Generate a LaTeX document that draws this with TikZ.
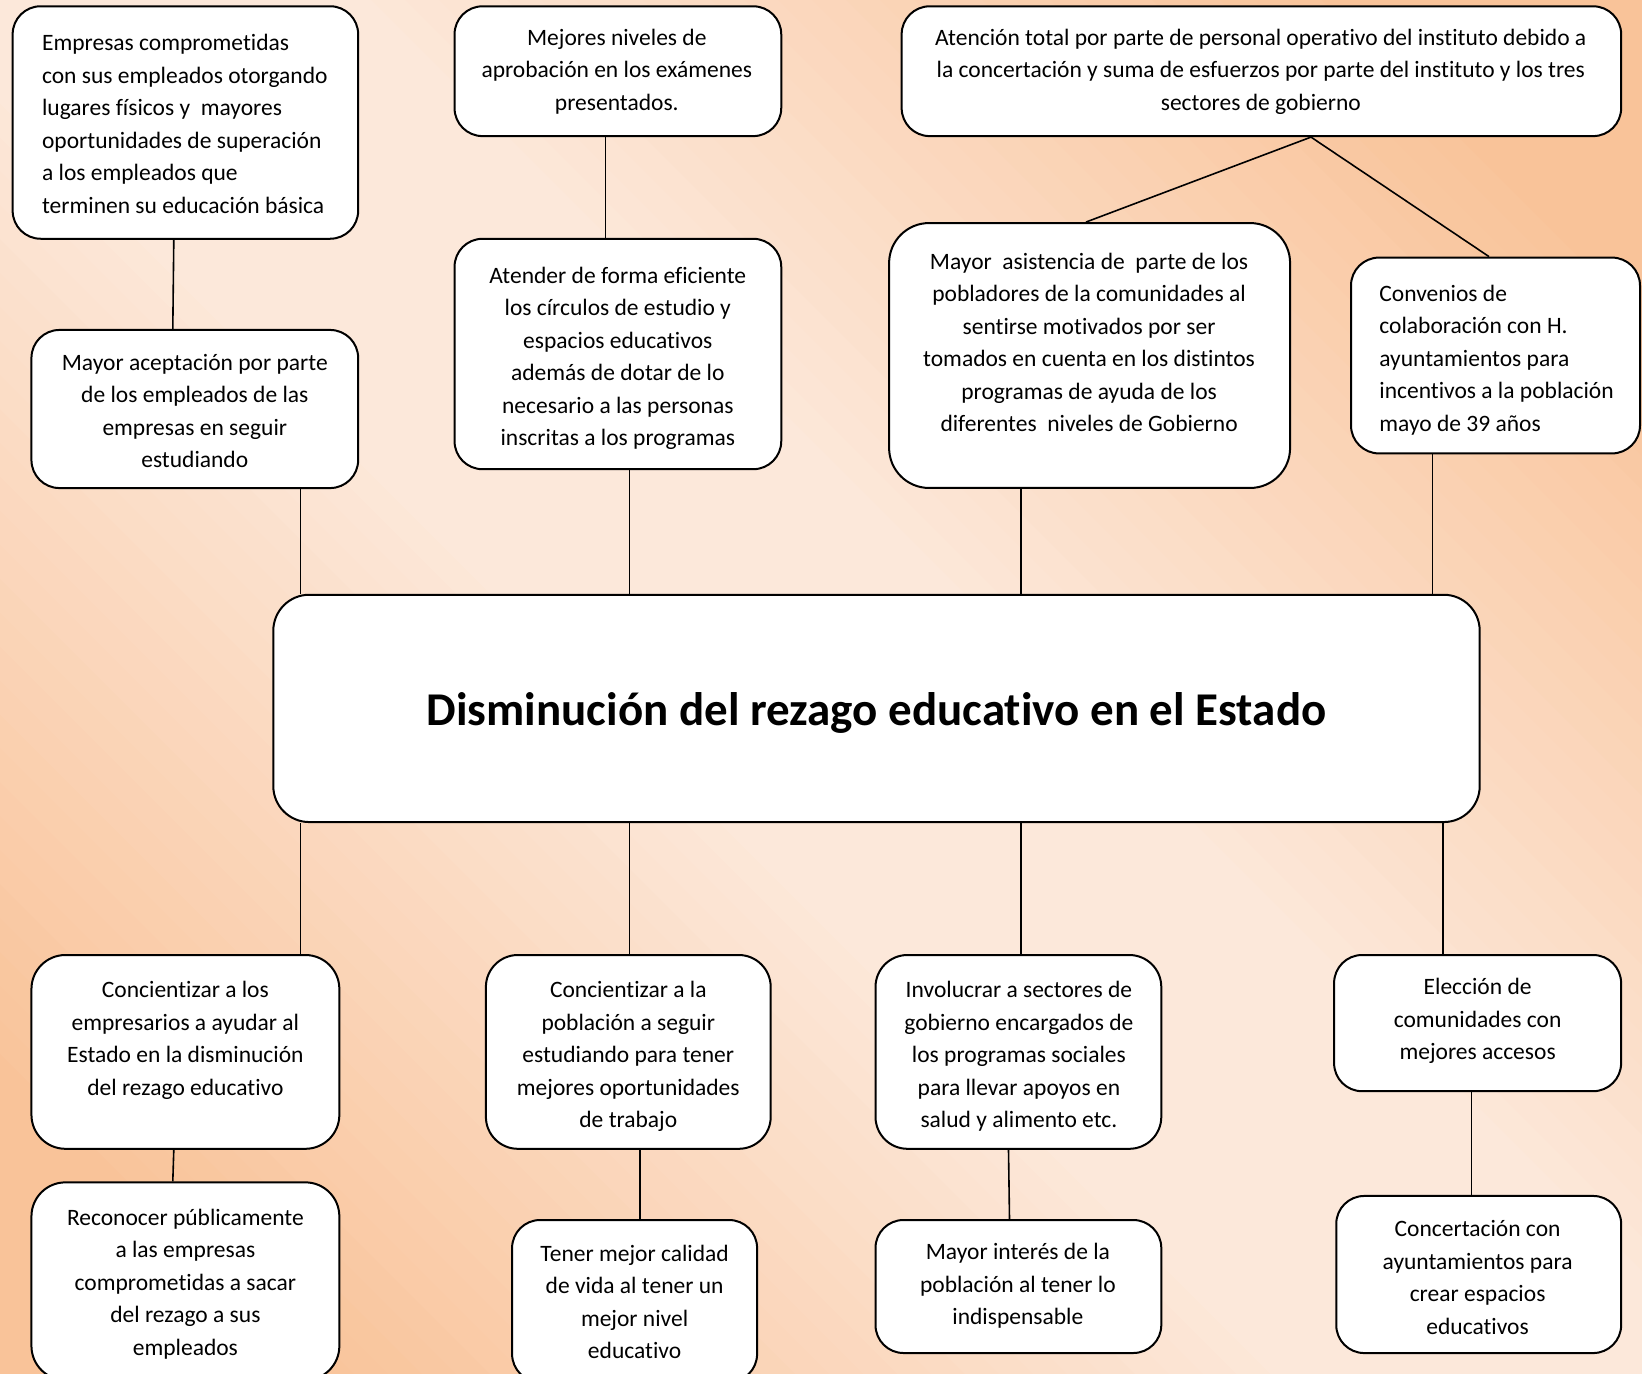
\documentclass[tikz,border=0pt]{standalone}
\usepackage{fontspec}
\setmainfont[Ligatures={NoCommon}, RawFeature={-liga;-clig;-calt;-dlig}]{Carlito}
\definecolor{bgorange}{RGB}{249,195,153}
\definecolor{bglight}{RGB}{252,232,218}
\begin{document}
\begin{tikzpicture}[x=1pt,y=-1pt,
  box/.style={draw=black, line width=2pt, fill=white, rounded corners=28pt, inner sep=0pt},
  bigbox/.style={box, rounded corners=36pt},
  txt/.style={font=\fontsize{23.5}{32.5}\selectfont, align=center, inner sep=0pt,
    execute at begin node=\strut, execute at end node=\strut},
  txtl/.style={txt, align=left},
  title/.style={font=\bfseries\fontsize{47}{55}\selectfont, inner sep=0pt},
  link/.style={draw=black, line width=1.6pt}]
\useasboundingbox (0,0) rectangle (1642,1374);
\clip (0,0) rectangle (1642,1374);
% background gradient: orange at top-right and bottom-left, light along the diagonal
\foreach \i in {0,...,89} {
  \pgfmathsetmacro{\ta}{-1080+\i*24}
  \pgfmathsetmacro{\tb}{\ta+25}
  \pgfmathtruncatemacro{\p}{max(0,min(100,(abs(\ta+12)-150)/7))}
  \fill[bgorange!\p!bglight]
    ({821+\ta*0.7071-1200*0.7071},{687-\ta*0.7071-1200*0.7071}) --
    ({821+\tb*0.7071-1200*0.7071},{687-\tb*0.7071-1200*0.7071}) --
    ({821+\tb*0.7071+1200*0.7071},{687-\tb*0.7071+1200*0.7071}) --
    ({821+\ta*0.7071+1200*0.7071},{687-\ta*0.7071+1200*0.7071}) -- cycle;
}

% x positions for connectors
\coordinate (xa) at (173.8,0);
\coordinate (xb) at (172.8,0);
\coordinate (xc) at (605.3,0);
\coordinate (xd) at (1311,0);
\coordinate (xe) at (1086,0);
\coordinate (xf) at (1489,0);
\coordinate (xg) at (300.5,0);
\coordinate (xh) at (629.4,0);
\coordinate (xi) at (1021,0);
\coordinate (xj) at (1432.6,0);
\coordinate (xk) at (1443,0);
\coordinate (xl) at (639.8,0);
\coordinate (xm) at (1008.5,0);
\coordinate (xn) at (1009.5,0);
\coordinate (xo) at (1471.3,0);

% boxes
\node[box, minimum width=345.5pt, minimum height=232.5pt] (b1) at (185.4,122.5) {};
\node[box, minimum width=326.7pt, minimum height=129.8pt] (b2) at (617.9,71.2) {};
\node[box, minimum width=719.5pt, minimum height=129.8pt] (b3) at (1261.4,71.2) {};
\node[box, minimum width=326.7pt, minimum height=158.1pt] (b4) at (194.8,409) {};
\node[box, minimum width=326.7pt, minimum height=230.4pt] (b5) at (617.9,354) {};
\node[box, minimum width=401pt, minimum height=264.9pt, rounded corners=40pt] (b6) at (1089.6,355.5) {};
\node[box, minimum width=289pt, minimum height=195.8pt] (b7) at (1495.5,355.5) {};
\node[bigbox, minimum width=1206.4pt, minimum height=227.3pt] (c) at (876.5,708.4) {};
\node[box, minimum width=307.9pt, minimum height=193.8pt, rounded corners=34pt] (b8) at (185.4,1051.9) {};
\node[box, minimum width=284.8pt, minimum height=193.8pt, rounded corners=32pt] (b9) at (628.3,1051.9) {};
\node[box, minimum width=285.8pt, minimum height=193.8pt, rounded corners=32pt] (b10) at (1018.4,1051.9) {};
\node[box, minimum width=287pt, minimum height=136.2pt] (b11) at (1477.6,1023.1) {};
\node[box, minimum width=307.9pt, minimum height=197.7pt, rounded corners=34pt] (b12) at (185.4,1281.2) {};
\node[box, minimum width=245pt, minimum height=162pt] (b13) at (634.6,1301) {};
\node[box, minimum width=285.8pt, minimum height=133pt] (b14) at (1018.4,1286.5) {};
\node[box, minimum width=284.9pt, minimum height=157.1pt] (b15) at (1478.7,1274.5) {};

% connectors
\draw[link] (b1.south -| xa) -- (b4.north -| xb);
\draw[link] (b2.south -| xc) -- (b5.north -| xc);
\draw[link] (b3.south -| xd) -- (b6.north -| xe);
\draw[link] (b3.south -| xd) -- (b7.north -| xf);
\draw[link] (b4.south -| xg) -- (c.north -| xg);
\draw[link] (b5.south -| xh) -- (c.north -| xh);
\draw[link] (b6.south -| xi) -- (c.north -| xi);
\draw[link] (b7.south -| xj) -- (c.north -| xj);
\draw[link] (c.south -| xg) -- (b8.north -| xg);
\draw[link] (c.south -| xh) -- (b9.north -| xh);
\draw[link] (c.south -| xi) -- (b10.north -| xi);
\draw[link] (c.south -| xk) -- (b11.north -| xk);
\draw[link] (b8.south -| xa) -- (b12.north -| xb);
\draw[link] (b9.south -| xl) -- (b13.north -| xl);
\draw[link] (b10.south -| xm) -- (b14.north -| xn);
\draw[link] (b11.south -| xo) -- (b15.north -| xo);

% texts
\node[txtl, anchor=west] (t1) at (41.9,128.5) {Empresas comprometidas\\con sus empleados otorgando\\lugares físicos y\ \ mayores\\oportunidades de superación\\a los empleados que\\terminen su educación básica};
\node[txt] (t2) at (616.8,74.6) {Mejores niveles de\\aprobación en los exámenes\\presentados.};
\node[txt] (t3) at (1260.8,74.6) {Atención total por parte de personal operativo del instituto debido a\\la concertación y suma de esfuerzos por parte del instituto y los tres\\sectores de gobierno};
\node[txt] (t4) at (194.8,416) {Mayor aceptación por parte\\de los empleados de las\\empresas en seguir\\estudiando};
\node[txt] (t5) at (617.8,361) {Atender de forma eficiente\\los círculos de estudio y\\espacios educativos\\además de dotar de lo\\necesario a las personas\\inscritas a los programas};
\node[txt] (t6) at (1089.1,347.4) {Mayor\ \ asistencia de\ \ parte de los\\pobladores de la comunidades al\\sentirse motivados por ser\\tomados en cuenta en los distintos\\programas de ayuda de los\\diferentes\ \ niveles de Gobierno};
\node[txtl, anchor=west] (t7) at (1379.2,363.1) {Convenios de\\colaboración con H.\\ayuntamientos para\\incentivos a la población\\mayo de 39 años};
\node[title] (tc) at (876.5,713) {Disminución del rezago educativo en el Estado};
\node[txt] (t8) at (185.4,1043.3) {Concientizar a los\\empresarios a ayudar al\\Estado en la disminución\\del rezago educativo};
\node[txt] (t9) at (628.3,1059.5) {Concientizar a la\\población a seguir\\estudiando para tener\\mejores oportunidades\\de trabajo};
\node[txt] (t10) at (1018.9,1059.5) {Involucrar a sectores de\\gobierno encargados de\\los programas sociales\\para llevar apoyos en\\salud y alimento etc.};
\node[txt] (t11) at (1477.6,1023.9) {Elección de\\comunidades con\\mejores accesos};
\node[txt] (t12) at (185.4,1286.8) {Reconocer públicamente\\a las empresas\\comprometidas a sacar\\del rezago a sus\\empleados};
\node[txt] (t13) at (634.6,1306.7) {Tener mejor calidad\\de vida al tener un\\mejor nivel\\educativo};
\node[txt] (t14) at (1017.9,1288.9) {Mayor interés de la\\población al tener lo\\indispensable};
\node[txt] (t15) at (1477.6,1282.1) {Concertación con\\ayuntamientos para\\crear espacios\\educativos};
\end{tikzpicture}
\end{document}
